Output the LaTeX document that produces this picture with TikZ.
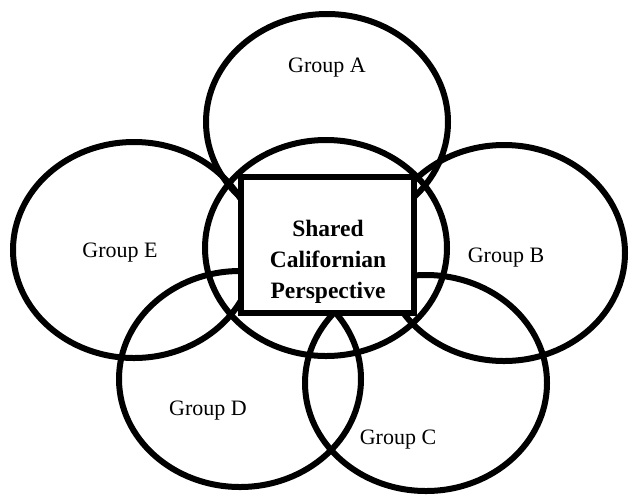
\documentclass[tikz,border=0pt]{standalone}
\usepackage{fontspec}
\setmainfont{Liberation Serif}
\usetikzlibrary{shapes.geometric}
\begin{document}
\begin{tikzpicture}[x=1pt,y=-1pt,
  grp/.style={ellipse,draw=black,line width=6pt,minimum width=242pt,minimum height=216pt,inner sep=0pt},
  glabel/.style={font=\fontsize{22}{24}\selectfont,inner sep=0pt},
  corebox/.style={draw=black,line width=6pt,minimum width=173pt,minimum height=136pt,inner sep=0pt,fill=white},
  coretext/.style={font=\fontsize{23.5}{31}\selectfont\bfseries,align=center,inner sep=0pt}]
\useasboundingbox (0,0) rectangle (631,499);
\node[grp] (A) at (327,122) {};
\node[grp] (E) at (134,250) {};
\node[grp] (B) at (504,253) {};
\node[grp] (D) at (240,379) {};
\node[grp] (C) at (426,383) {};
\node[grp] (S) at (326,248) {};
\node[corebox] (box) at (327.5,244.5) {};
\node[coretext] (ct) at (328,262) {Shared\\Californian\\Perspective};
\node[glabel] (la) at (327,68) {Group A};
\node[glabel] (le) at (120,253) {Group E};
\node[glabel] (lb) at (506,258) {Group B};
\node[glabel] (ld) at (208,411) {Group D};
\node[glabel] (lc) at (398,440) {Group C};
\end{tikzpicture}
\end{document}
